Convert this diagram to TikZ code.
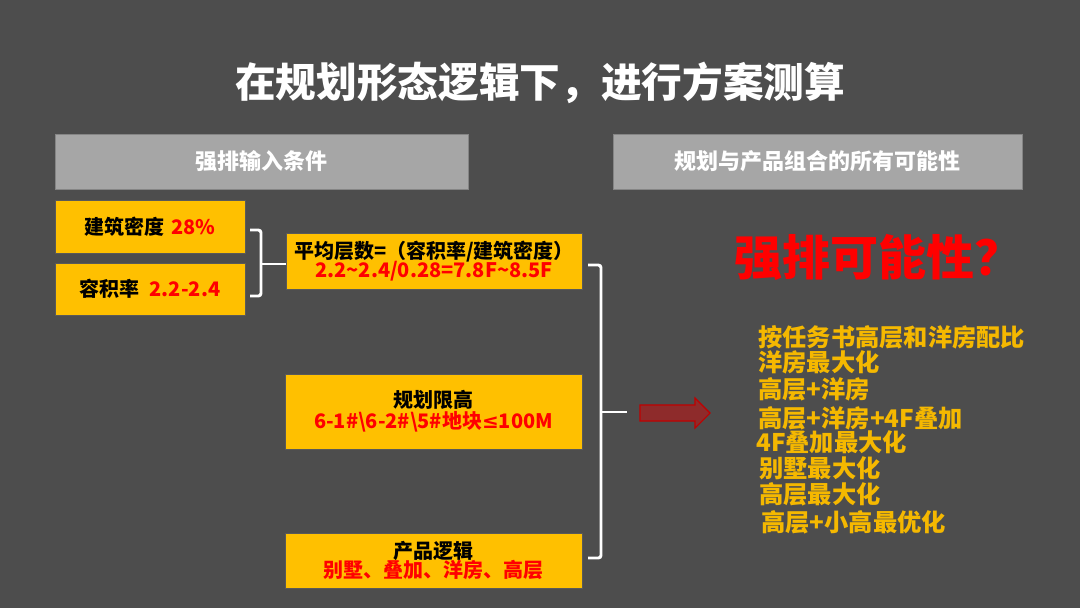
\documentclass[tikz,border=0pt]{standalone}
\usepackage{fontspec}
\setmainfont{Noto Sans CJK SC}
\newfontfamily\symfont{DejaVu Sans}
\definecolor{bg}{HTML}{4D4D4D}
\definecolor{hdr}{HTML}{A6A6A6}
\definecolor{ybox}{HTML}{FFC000}
\definecolor{ytext}{HTML}{F5B800}
\definecolor{rtext}{HTML}{FF0000}
\definecolor{arrowfill}{HTML}{8E2B2B}
\definecolor{arrowline}{HTML}{C00000}
\tikzset{
  hdrbox/.style={draw=hdr!80!black, line width=0.6pt, fill=hdr, text=white, font=\bfseries\fontsize{16.5}{19}\selectfont, inner sep=0pt},
  ybx/.style={draw=gray!70!black, line width=0.6pt, fill=ybox, inner sep=0pt, align=center, font=\bfseries\fontsize{15}{17.5}\selectfont},
  brk/.style={draw=white, line width=2.2pt},
  itemtxt/.style={anchor=west, text=ytext, font=\bfseries\fontsize{18.2}{20}\selectfont, inner sep=0pt}
}
\begin{document}
\begin{tikzpicture}[x=0.75pt,y=-0.75pt]
\fill[bg] (0,0) rectangle (1080,608);
\useasboundingbox (0,0) rectangle (1080,608);
\node[text=white, font=\bfseries\fontsize{30.5}{35}\selectfont] (title) at (540,83) {在规划形态逻辑下，进行方案测算};
\node[hdrbox, minimum width=309.75pt, minimum height=41.25pt] (h1) at (261.5,161.5) {强排输入条件};
\node[hdrbox, minimum width=306.75pt, minimum height=41.25pt] (h2) at (817.5,161.5) {规划与产品组合的所有可能性};
% left boxes
\node[ybx, minimum width=142.5pt, minimum height=39.75pt] (b1) at (150,226.5) {建筑密度\,\,\textcolor{rtext}{28\%}};
\node[ybx, minimum width=142.5pt, minimum height=39pt] (b2) at (150,289) {容积率\,\,\,\textcolor{rtext}{2.2-2.4}};
% middle boxes
\node[ybx, minimum width=222pt, minimum height=42pt] (m1) at (434,261) {平均层数=（容积率/建筑密度）\\[-3pt]\textcolor{rtext}{2.2\textasciitilde2.4/0.28=7.8F\textasciitilde8.5F}};
\node[ybx, minimum width=222.75pt, minimum height=56.25pt] (m2) at (433.5,411.5) {规划限高\\[-2pt]\textcolor{rtext}{6-1\#\textbackslash6-2\#\textbackslash5\#地块{\symfont\bfseries ≤}100M}};
\node[ybx, minimum width=222.75pt, minimum height=41.25pt] (m3) at (433.5,560.5) {产品逻辑\\[-3pt]\textcolor{rtext}{别墅、叠加、洋房、高层}};
% small bracket
\coordinate (s1) at (250,230);
\coordinate (s2) at (250,296);
\coordinate (sm) at (m1.west|-0,264);
\draw[brk, rounded corners=2pt] (s1) -- (261,230) -- (261,296) -- (s2);
\draw[brk] (261,264) -- (sm);
% big bracket
\coordinate (t1) at (588,265);
\coordinate (t2) at (588,558);
\coordinate (tm) at (627,412);
\draw[brk, rounded corners=2pt] (t1) -- (601,265) -- (601,558) -- (t2);
\draw[brk] (601,412) -- (tm);
% block arrow
\coordinate (arr) at (640,413);
\draw[draw=arrowline, fill=arrowfill, line width=0.8pt, line join=miter]
  (arr) ++(0,-8) -- ++(55,0) -- ++(0,-7) -- ++(15,15) -- ++(-15,15) -- ++(0,-7) -- ++(-55,0) -- cycle;
% right text
\node[text=rtext, font=\bfseries\fontsize{36}{40}\selectfont] (q) at (878,257) {强排可能性？};
\node[itemtxt] (l1) at (758,337) {按任务书高层和洋房配比};
\node[itemtxt] (l2) at (758,362) {洋房最大化};
\node[itemtxt] (l3) at (758,389) {高层+洋房};
\node[itemtxt] (l4) at (758,418) {高层+洋房+4F叠加};
\node[itemtxt] (l5) at (756,442) {4F叠加最大化};
\node[itemtxt] (l6) at (759,468) {别墅最大化};
\node[itemtxt] (l7) at (759,494) {高层最大化};
\node[itemtxt] (l8) at (761,522) {高层+小高最优化};
\end{tikzpicture}
\end{document}
